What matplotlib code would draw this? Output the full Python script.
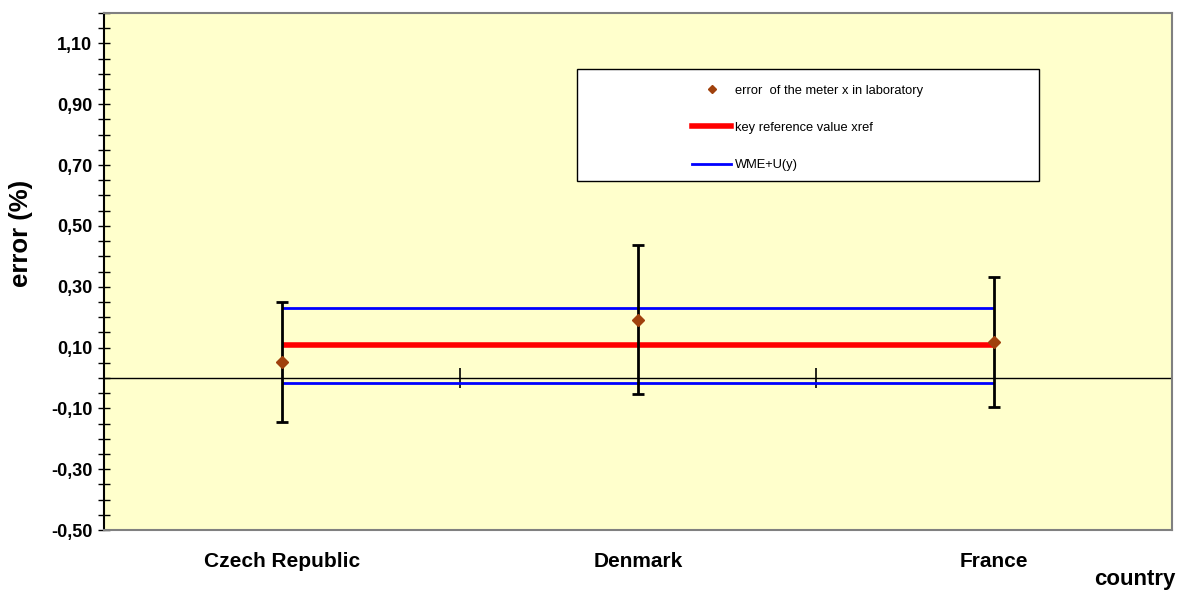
#!/usr/bin/env python3
"""Key comparison chart: laboratory meter errors vs key reference value."""

import matplotlib
matplotlib.use("Agg")
import matplotlib.pyplot as plt
import matplotlib.ticker as ticker
from matplotlib.patches import Rectangle
from matplotlib.lines import Line2D
import numpy as np

# ---------------------------------------------------------------------------
# Data
# ---------------------------------------------------------------------------

countries = ["Czech Republic", "Denmark", "France"]
lab_error = [0.053, 0.191, 0.119]        # error of the meter x in laboratory (%)
lab_uncertainty = [0.197, 0.245, 0.214]  # expanded uncertainty U (%)
xref = 0.108                             # key reference value
wme_upper = 0.231                        # WME + U(y)
wme_lower = -0.016                       # WME - U(y)

yticks = [-0.50, -0.30, -0.10, 0.10, 0.30, 0.50, 0.70, 0.90, 1.10]

# ---------------------------------------------------------------------------
# Style
# ---------------------------------------------------------------------------

plt.rcParams["font.family"] = ["Liberation Sans", "DejaVu Sans"]
PLOT_BG = "#FFFFCC"
POINT_COLOR = "#A0410D"
REF_COLOR = "#FF0000"
WME_COLOR = "#0000FF"

fig = plt.figure(figsize=(11.84, 5.92), dpi=100)
ax = fig.add_axes([0.0878, 0.1047, 0.9021, 0.8733])
ax.set_facecolor(PLOT_BG)

x = np.arange(1, len(countries) + 1)

# reference lines across the participants
ax.hlines(xref, x[0], x[-1], color=REF_COLOR, linewidth=4, zorder=3)
ax.hlines([wme_upper, wme_lower], x[0], x[-1], color=WME_COLOR, linewidth=2, zorder=3)

# zero line with category separator ticks
ax.axhline(0, color="black", linewidth=1, zorder=2)
ax.plot(np.arange(1.5, len(countries) + 0.6, 1.0), np.zeros(len(countries)),
        linestyle="none", marker="|", markersize=14, markeredgewidth=1.2,
        color="black", zorder=2)

# laboratory results with uncertainty
ax.errorbar(x, lab_error, yerr=lab_uncertainty, fmt="none", ecolor="black",
            elinewidth=2, capsize=4.5, capthick=2, zorder=4)
ax.plot(x, lab_error, linestyle="none", marker="D", markersize=6.5,
        color=POINT_COLOR, zorder=5)

# axes
ax.set_xlim(0.5, len(countries) + 0.5)
ax.set_ylim(-0.5, 1.2)
ax.set_xticks(x)
ax.set_xticklabels(countries, fontsize=15, fontweight="bold")
ax.tick_params(axis="x", length=0, pad=16)

ax.set_yticks(yticks)
ax.set_yticklabels([f"{v:.2f}".replace(".", ",") for v in yticks],
                   fontsize=13, fontweight="bold")
ax.yaxis.set_minor_locator(ticker.MultipleLocator(0.05))
ax.tick_params(axis="y", which="both", direction="inout", length=9, width=1)
ax.tick_params(axis="y", which="major", pad=4)

for side in ["top", "right", "bottom"]:
    ax.spines[side].set_color("#808080")
    ax.spines[side].set_linewidth(1.5)
ax.spines["left"].set_color("black")
ax.spines["left"].set_linewidth(1.5)

ax.set_ylabel("error (%)", fontsize=18.5, fontweight="bold")
ax.yaxis.set_label_coords(-0.066, 0.574)
fig.text(0.993, 0.012, "country", ha="right", va="baseline",
         fontsize=16, fontweight="bold")

# legend box
box = Rectangle((0.443, 0.675), 0.432, 0.217, transform=ax.transAxes,
                facecolor="white", edgecolor="black", linewidth=1, zorder=6)
ax.add_patch(box)
handles = [
    Line2D([], [], linestyle="none", marker="D", markersize=4.5, color=POINT_COLOR),
    Line2D([], [], color=REF_COLOR, linewidth=4),
    Line2D([], [], color=WME_COLOR, linewidth=2),
]
labels = ["error  of the meter x in laboratory", "key reference value xref", "WME+U(y)"]
leg = ax.legend(handles, labels, loc="center", bbox_to_anchor=(0.659, 0.778),
                frameon=False, fontsize=9.3, labelspacing=1.95,
                handlelength=3.0, handletextpad=0.3)
leg.set_zorder(7)

fig.savefig("out.png", dpi=100)
